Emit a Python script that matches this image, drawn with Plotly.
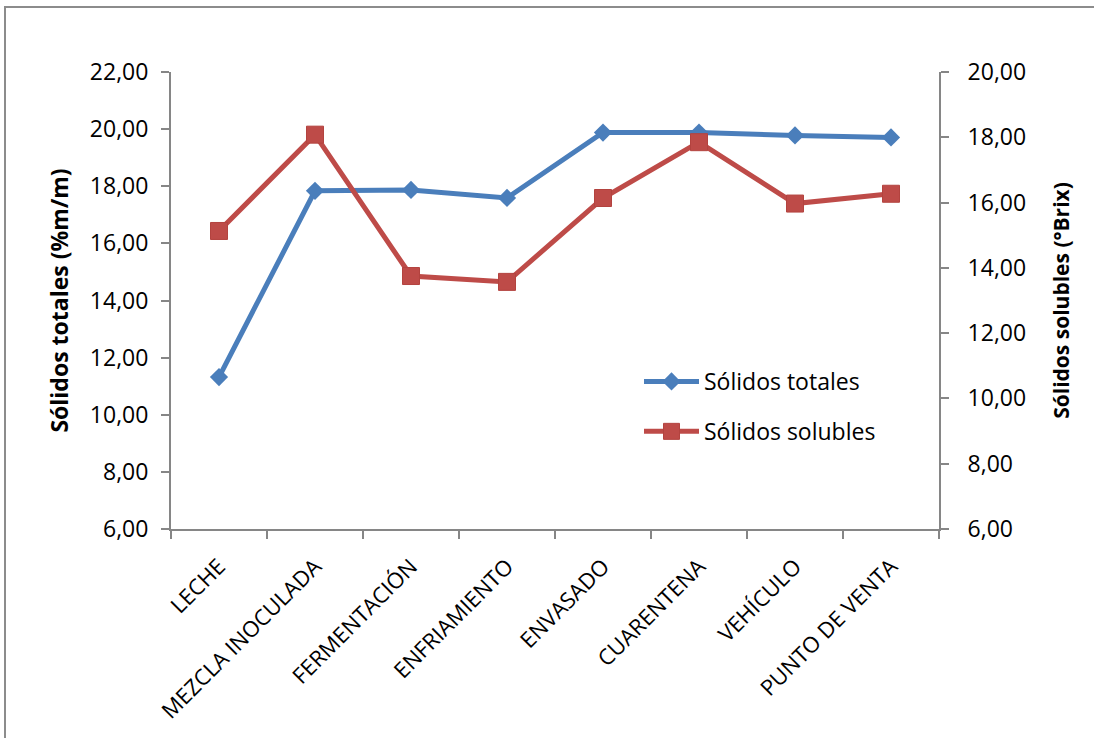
import plotly.graph_objects as go

# Etapas del proceso
etapas = ["LECHE", "MEZCLA INOCULADA", "FERMENTACIÓN", "ENFRIAMIENTO",
          "ENVASADO", "CUARENTENA", "VEHÍCULO", "PUNTO DE VENTA"]

# Sólidos totales (%m/m), eje izquierdo
solidos_totales = [11.32, 17.84, 17.87, 17.59, 19.88, 19.88, 19.78, 19.71]

# Sólidos solubles (°Brix), eje derecho
solidos_solubles = [15.13, 18.08, 13.75, 13.57, 16.14, 17.85, 15.97, 16.27]

AZUL = "#4A7EBB"
ROJO = "#BE4B48"
GRIS = "#868686"
FUENTE = "Open Sans"

# Área de trazado en píxeles (lienzo 1094x738)
L, R, T, B = 171, 939, 72, 529
W, H = 1094, 738

fig = go.Figure()
fig.add_trace(go.Scatter(
    x=etapas, y=solidos_totales, name="Sólidos totales", mode="lines+markers",
    line=dict(color=AZUL, width=5),
    marker=dict(symbol="diamond", size=14, color=AZUL),
    legendgroup="a", yaxis="y",
))
fig.add_trace(go.Scatter(
    x=etapas, y=solidos_solubles, name="Sólidos solubles", mode="lines+markers",
    line=dict(color=ROJO, width=5),
    marker=dict(symbol="square", size=17, color=ROJO, line=dict(color="#B3433F", width=1)),
    legendgroup="b", yaxis="y2",
))

def px_x(p):
    return (p - L) / (R - L)

def px_y(p):
    return (B - p) / (B - T)

eje = dict(
    showline=True, linecolor=GRIS, linewidth=2,
    ticks="outside", tickcolor=GRIS, tickwidth=2, ticklen=8,
    showgrid=False, zeroline=False,
)
fuente_ticks = dict(family=FUENTE, size=23, color="black")

fig.update_layout(
    width=W, height=H,
    margin=dict(l=L, r=W - R, t=T, b=H - B),
    paper_bgcolor="white", plot_bgcolor="white",
    separators=",.",
    font=dict(family=FUENTE, color="black"),
    xaxis=dict(
        **eje, type="category", tickson="boundaries", tickangle=-45,
        tickfont=dict(family=FUENTE, size=22, color="black"),
        range=[-0.5, len(etapas) - 0.5], ticklabelstandoff=14,
    ),
    yaxis=dict(
        **eje, range=[6, 22], dtick=2, tickformat=".2f", tickfont=fuente_ticks,
        title=dict(text="Sólidos totales (%m/m)", standoff=15,
                   font=dict(family=FUENTE, size=23, weight="bold", color="black")),
        ticklabelstandoff=8,
    ),
    yaxis2=dict(
        **eje, range=[6, 20], dtick=2, tickformat=".2f", tickfont=fuente_ticks,
        overlaying="y", side="right",
        title=dict(text="Sólidos solubles (°Brix)", standoff=29,
                   font=dict(family=FUENTE, size=21, weight="bold", color="black")),
        ticklabelstandoff=14,
    ),
    legend=dict(
        x=px_x(639), y=px_y(360), xanchor="left", yanchor="top",
        font=dict(family=FUENTE, size=23, color="black"),
        bgcolor="rgba(0,0,0,0)", tracegroupgap=17, itemwidth=55,
    ),
    showlegend=True,
)

# Marco exterior del gráfico
fig.add_shape(
    type="rect", xref="paper", yref="paper",
    x0=px_x(5), x1=px_x(1100), y0=px_y(745), y1=px_y(7),
    line=dict(color="#8C8C8C", width=2), fillcolor="rgba(0,0,0,0)", layer="below",
)

fig.write_html("out.html")
